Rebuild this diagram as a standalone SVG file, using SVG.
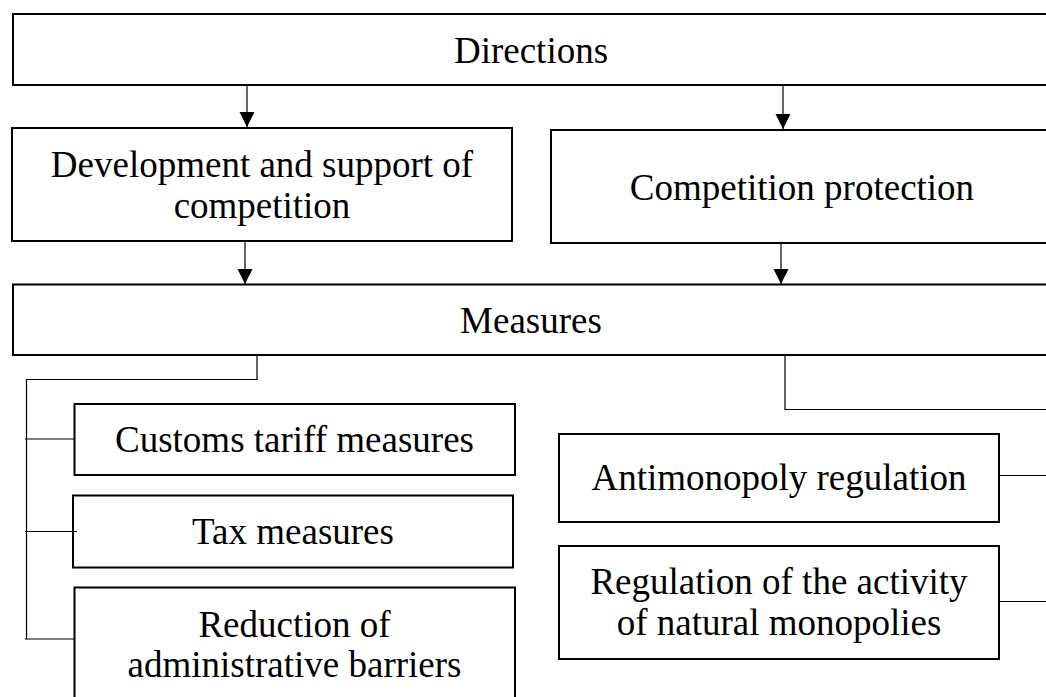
<svg xmlns="http://www.w3.org/2000/svg" width="1046" height="697" viewBox="0 0 1046 697">
<style>
  .box { fill: #ffffff; stroke: #000000; stroke-width: 2; }
  .lbl { font-family: "Liberation Serif", "Times New Roman", serif; font-size: 37px; fill: #000000; text-anchor: middle; }
  .con { fill: none; stroke: #000000; stroke-width: 1.2; }
</style>
<defs>
  <marker id="arr" markerUnits="userSpaceOnUse" markerWidth="15" markerHeight="16" refX="15" refY="7.5" orient="auto" viewBox="0 0 15 15">
    <path d="M0,0 L15,7.5 L0,15 z" fill="#000000"/>
  </marker>
</defs>
<rect x="0" y="0" width="1046" height="697" fill="#ffffff"/>

<g id="directions">
  <rect class="box" x="13" y="14" width="1040" height="71"/>
  <text class="lbl" x="531" y="62.5">Directions</text>
</g>
<g id="development">
  <rect class="box" x="12" y="128" width="500" height="113"/>
  <text class="lbl" x="262" y="177">Development and support of</text>
  <text class="lbl" x="262" y="218">competition</text>
</g>
<g id="protection">
  <rect class="box" x="551" y="130" width="500" height="113"/>
  <text class="lbl" x="802" y="200">Competition protection</text>
</g>
<g id="measures">
  <rect class="box" x="13" y="284.5" width="1040" height="70.5"/>
  <text class="lbl" x="531" y="333">Measures</text>
</g>
<g id="customs">
  <rect class="box" x="74.5" y="404" width="440.5" height="71"/>
  <text class="lbl" x="294.5" y="452">Customs tariff measures</text>
</g>
<g id="tax">
  <rect class="box" x="73" y="495.5" width="440" height="72"/>
  <text class="lbl" x="293" y="544">Tax measures</text>
</g>
<g id="reduction">
  <rect class="box" x="74.5" y="587.5" width="440.5" height="120"/>
  <text class="lbl" x="294.5" y="637">Reduction of</text>
  <text class="lbl" x="294.5" y="677">administrative barriers</text>
</g>
<g id="antimonopoly">
  <rect class="box" x="559" y="434" width="440" height="88"/>
  <text class="lbl" x="779" y="490">Antimonopoly regulation</text>
</g>
<g id="natural">
  <rect class="box" x="559" y="546" width="440" height="113"/>
  <text class="lbl" x="779" y="593.5">Regulation of the activity</text>
  <text class="lbl" x="779" y="635">of natural monopolies</text>
</g>

<g id="connectors">
  <line class="con" x1="247" y1="86" x2="247" y2="127" marker-end="url(#arr)"/>
  <line class="con" x1="783" y1="86" x2="783" y2="129" marker-end="url(#arr)"/>
  <line class="con" x1="245" y1="242" x2="245" y2="284" marker-end="url(#arr)"/>
  <line class="con" x1="781" y1="244" x2="781" y2="284" marker-end="url(#arr)"/>
  <polyline class="con" points="257,356 257,379.5 26.5,379.5 26.5,639"/>
  <line class="con" x1="25" y1="439" x2="74" y2="439"/>
  <line class="con" x1="25" y1="531.5" x2="77" y2="531.5"/>
  <line class="con" x1="25" y1="639" x2="74" y2="639"/>
  <polyline class="con" points="785,356 785,409.5 1050,409.5"/>
  <line class="con" x1="999" y1="475.5" x2="1050" y2="475.5"/>
  <line class="con" x1="999" y1="601.5" x2="1050" y2="601.5"/>
</g>
</svg>
